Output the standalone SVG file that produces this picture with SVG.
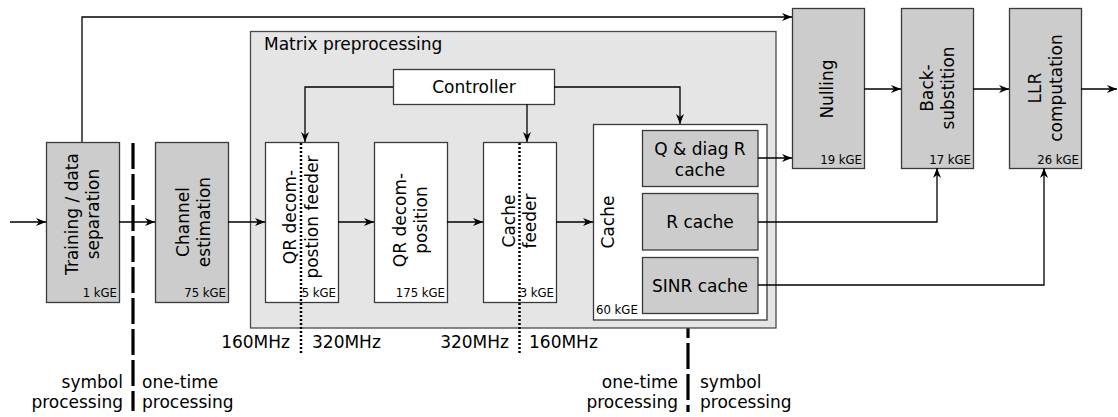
<svg xmlns="http://www.w3.org/2000/svg" width="1118" height="417" viewBox="0 0 1118 417">
  <defs>
    <marker id="ah" viewBox="0 0 10 8" refX="10" refY="4" markerWidth="10" markerHeight="8" markerUnits="userSpaceOnUse" orient="auto">
      <path d="M0,0 L10,4 L0,8 L3,4 Z" fill="#000"/>
    </marker>
  </defs>
  <style>
    .blk{fill:#cccccc;stroke:#3a3a3a;stroke-width:1.3}
    .wht{fill:#ffffff;stroke:#3a3a3a;stroke-width:1.3}
    .grp{fill:#e5e5e5;stroke:#4a4a4a;stroke-width:1.3}
    text{font-family:"DejaVu Sans","Liberation Sans",sans-serif;fill:#000}
    .lbl{font-size:17px}
    .mid{text-anchor:middle}
    .end{text-anchor:end}
    .kge{font-size:11.7px;text-anchor:end}
    .w{fill:none;stroke:#000;stroke-width:1.3}
    .arr{marker-end:url(#ah)}
    .clk{fill:none;stroke:#000;stroke-width:2.5;stroke-dasharray:2 2}
    .dom{fill:none;stroke:#000;stroke-width:3.2;stroke-dasharray:26 5}
  </style>

  <!-- clock / processing domain boundaries -->
  <g id="boundaries">
    <line class="dom" x1="133" y1="143" x2="133" y2="411"/>
    <line class="dom" x1="688" y1="250" x2="688" y2="412"/>
    <line class="clk" x1="688" y1="187" x2="688" y2="193" style="stroke-width:2"/>
  </g>

  <!-- matrix preprocessing container -->
  <g id="matrix-preprocessing">
    <rect class="grp" x="250.5" y="31.5" width="525.5" height="296.5"/>
    <text class="lbl" x="264" y="50">Matrix preprocessing</text>
  </g>

  <g id="training">
    <rect class="blk" x="46.5" y="142.5" width="73" height="160"/>
    <text class="lbl mid" transform="translate(78,214) rotate(-90)">Training / data</text>
    <text class="lbl mid" transform="translate(99,214) rotate(-90)">separation</text>
    <text class="kge" x="117" y="297">1 kGE</text>
  </g>

  <g id="channel-estimation">
    <rect class="blk" x="155.5" y="142.5" width="73" height="160"/>
    <text class="lbl mid" transform="translate(188.5,222) rotate(-90)">Channel</text>
    <text class="lbl mid" transform="translate(209.5,222) rotate(-90)">estimation</text>
    <text class="kge" x="226" y="297">75 kGE</text>
  </g>

  <g id="controller">
    <rect class="wht" x="393.5" y="69.5" width="161" height="35"/>
    <text class="lbl mid" x="474" y="93">Controller</text>
  </g>

  <g id="qr-feeder">
    <rect class="wht" x="265.5" y="142.5" width="73" height="160"/>
    <text class="lbl mid" transform="translate(296,217) rotate(-90)">QR decom-</text>
    <text class="lbl mid" transform="translate(318,217) rotate(-90)">postion feeder</text>
    <text class="kge" x="336" y="297">5 kGE</text>
  </g>

  <g id="qr-decomposition">
    <rect class="wht" x="374.5" y="142.5" width="73" height="160"/>
    <text class="lbl mid" transform="translate(406,220) rotate(-90)">QR decom-</text>
    <text class="lbl mid" transform="translate(427,220) rotate(-90)">position</text>
    <text class="kge" x="445" y="297">175 kGE</text>
  </g>

  <g id="cache-feeder">
    <rect class="wht" x="483.5" y="142.5" width="73" height="160"/>
    <text class="lbl mid" transform="translate(515,221) rotate(-90)">Cache</text>
    <text class="lbl mid" transform="translate(536,221) rotate(-90)">feeder</text>
    <text class="kge" x="554" y="297">3 kGE</text>
  </g>

  <g id="cache">
    <rect class="wht" x="593.5" y="124.5" width="173.5" height="195.5"/>
    <text class="lbl mid" transform="translate(614,222) rotate(-90)">Cache</text>
    <text x="596" y="314" style="font-size:11.7px">60 kGE</text>
  </g>

  <g id="q-diag-r-cache">
    <rect class="blk" x="642.5" y="130.5" width="115.5" height="56"/>
    <text class="lbl mid" x="700" y="155">Q &amp; diag R</text>
    <text class="lbl mid" x="700" y="176">cache</text>
  </g>

  <g id="r-cache">
    <rect class="blk" x="642.5" y="193.5" width="115.5" height="56.5"/>
    <text class="lbl mid" x="700" y="228">R cache</text>
  </g>

  <g id="sinr-cache">
    <rect class="blk" x="642.5" y="257.5" width="115.5" height="56"/>
    <text class="lbl mid" x="700" y="292">SINR cache</text>
  </g>

  <g id="nulling">
    <rect class="blk" x="792.5" y="8.5" width="72" height="160"/>
    <text class="lbl mid" transform="translate(833,89) rotate(-90)">Nulling</text>
    <text class="kge" x="862" y="164">19 kGE</text>
  </g>

  <g id="back-substitution">
    <rect class="blk" x="901.5" y="8.5" width="72" height="160"/>
    <text class="lbl mid" transform="translate(933,88) rotate(-90)">Back-</text>
    <text class="lbl mid" transform="translate(954,88) rotate(-90)">substition</text>
    <text class="kge" x="971" y="164">17 kGE</text>
  </g>

  <g id="llr-computation">
    <rect class="blk" x="1009.5" y="8.5" width="72" height="160"/>
    <text class="lbl mid" transform="translate(1041,88) rotate(-90)">LLR</text>
    <text class="lbl mid" transform="translate(1062,88) rotate(-90)">computation</text>
    <text class="kge" x="1079" y="164">26 kGE</text>
  </g>

  <!-- clock-domain crossings inside the feeders -->
  <g id="clock-crossings">
    <line class="clk" x1="301" y1="143" x2="301" y2="353"/>
    <line class="clk" x1="519.5" y1="143" x2="519.5" y2="353"/>
  </g>

  <g id="connectors">
    <!-- main data path -->
    <line class="w arr" x1="10" y1="222" x2="46" y2="222"/>
    <line class="w arr" x1="119" y1="222" x2="155" y2="222"/>
    <line class="w arr" x1="228" y1="222" x2="265" y2="222"/>
    <line class="w arr" x1="338" y1="222" x2="374" y2="222"/>
    <line class="w arr" x1="447" y1="222" x2="483" y2="222"/>
    <line class="w arr" x1="556" y1="222" x2="593" y2="222"/>
    <!-- data bypass to nulling -->
    <polyline class="w arr" points="82,142 82,17 792,17"/>
    <!-- controller outputs -->
    <polyline class="w arr" points="393,87 305,87 305,142"/>
    <line class="w arr" x1="527" y1="104" x2="527" y2="142"/>
    <polyline class="w arr" points="554,87 680,87 680,124"/>
    <!-- cache outputs -->
    <line class="w arr" x1="758" y1="158" x2="792" y2="158"/>
    <polyline class="w arr" points="758,222 937,222 937,168"/>
    <polyline class="w arr" points="758,285 1044,285 1044,168"/>
    <!-- detection chain -->
    <line class="w arr" x1="864" y1="89" x2="901" y2="89"/>
    <line class="w arr" x1="973" y1="89" x2="1009" y2="89"/>
    <line class="w arr" x1="1081" y1="89" x2="1117" y2="89"/>
  </g>

  <g id="domain-labels">
    <text class="lbl end" x="290" y="348">160MHz</text>
    <text class="lbl" x="312" y="348">320MHz</text>
    <text class="lbl end" x="509" y="348">320MHz</text>
    <text class="lbl" x="529" y="348">160MHz</text>
    <text class="lbl end" x="123" y="388">symbol</text>
    <text class="lbl end" x="123" y="408">processing</text>
    <text class="lbl" x="142" y="388">one-time</text>
    <text class="lbl" x="142" y="408">processing</text>
    <text class="lbl end" x="678" y="388">one-time</text>
    <text class="lbl end" x="678" y="408">processing</text>
    <text class="lbl" x="700" y="388">symbol</text>
    <text class="lbl" x="700" y="408">processing</text>
  </g>
</svg>
